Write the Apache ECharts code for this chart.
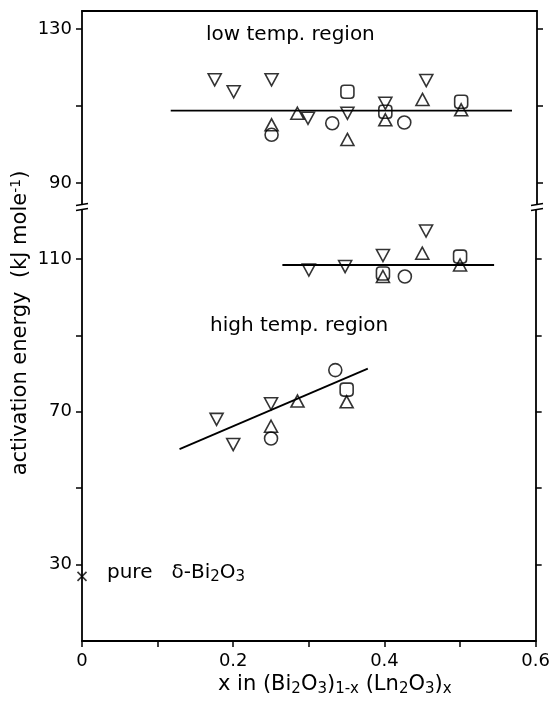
<!DOCTYPE html>
<html>
<head>
<meta charset="utf-8">
<script src="https://cdn.jsdelivr.net/npm/echarts@6/dist/echarts.min.js"></script>
<style>
html,body{margin:0;padding:0;background:#fff;}
#c{width:553px;height:709px;}
</style>
</head>
<body>
<div id="c"></div>
<script>
// ---- data (x = mole fraction, y = activation energy kJ/mol) ----
// upper panel: low temperature region
var lowDown   = [[0.175,116.8],[0.2,113.7],[0.25,116.8],[0.298,106.8],[0.35,108.1],[0.4,110.7],[0.454,116.6]];
var lowUp     = [[0.25,105.1],[0.284,108.1],[0.35,101.3],[0.4,106.4],[0.449,111.7],[0.5,109.0]];
var lowCircle = [[0.25,102.5],[0.33,105.5],[0.425,105.7]];
var lowSquare = [[0.35,113.7],[0.4,108.5],[0.5,111.1]];
var lowFit    = [[0.117,108.8],[0.567,108.8]];
// lower panel
var hiDown    = [[0.3,107.1],[0.348,108.0],[0.398,110.9],[0.455,117.3],[0.178,68.0],[0.2,61.4],[0.25,72.1]];
var hiUp      = [[0.398,105.4],[0.45,111.5],[0.5,108.4],[0.25,66.2],[0.285,72.8],[0.35,72.6]];
var hiCircle  = [[0.427,105.4],[0.25,63.0],[0.335,80.9]];
var hiSquare  = [[0.398,106.2],[0.5,110.6],[0.35,75.8]];
var hiFitFlat = [[0.265,108.4],[0.545,108.4]];
var hiFitSlope= [[0.129,60.2],[0.378,81.3]];
var pureBi    = [[0,26.9]];
// ticks
var xTicks = [0,0.1,0.2,0.3,0.4,0.5,0.6];
var xLabels = [0,0.2,0.4,0.6];
var upTicks = [90,110,130];
var upLabels = [90,130];
var loTicks = [30,50,70,90,110];
var loLabels = [30,70,110];

var FONT = 'DejaVu Sans';
var BLACK = '#000';

var chart = echarts.init(document.getElementById('c'), null, {renderer:'canvas'});

function yAx(grid, pos, min, max, ticks, labels){
  return {
    type:'value', gridIndex:grid, position:pos, min:min, max:max,
    axisLine:{show:true, onZero:false, lineStyle:{color:BLACK, width:1.8}},
    axisTick:{show:true, inside:false, length:6, customValues:ticks, lineStyle:{color:BLACK, width:1.5}},
    axisLabel:{show:labels!==null, customValues:labels||[], margin:10, color:BLACK, fontFamily:FONT, fontSize:18},
    splitLine:{show:false}
  };
}
function sc(name, data, xi, yi, symbol, size, rot){
  return {
    type:'scatter', name:name, data:data, xAxisIndex:xi, yAxisIndex:yi,
    symbol:symbol, symbolSize:size, symbolRotate:rot||0,
    itemStyle:{color:'rgba(0,0,0,0)', borderColor:BLACK, borderWidth:1.6},
    emphasis:{disabled:true}, silent:true, z:3
  };
}
function ln(data, xi, yi){
  return {
    type:'line', data:data, xAxisIndex:xi, yAxisIndex:yi, symbol:'none',
    lineStyle:{color:BLACK, width:1.8}, silent:true, z:2
  };
}

var option = {
  animation:false,
  backgroundColor:'#fff',
  grid:[
    {left:82, right:16, top:11, height:193},
    {left:82, right:16, top:210, height:431}
  ],
  xAxis:[
    {type:'value', gridIndex:0, position:'top', min:0, max:0.6,
     axisLine:{show:true, onZero:false, lineStyle:{color:BLACK, width:1.8}},
     axisTick:{show:false}, axisLabel:{show:false}, splitLine:{show:false}},
    {type:'value', gridIndex:1, position:'bottom', min:0, max:0.6,
     axisLine:{show:true, onZero:false, lineStyle:{color:BLACK, width:1.8}},
     axisTick:{show:true, length:6, customValues:xTicks, lineStyle:{color:BLACK, width:1.5}},
     axisLabel:{show:true, customValues:xLabels, margin:11, color:BLACK, fontFamily:FONT, fontSize:18,
       formatter:function(v){ return v===0 ? '0' : v.toFixed(1); }},
     splitLine:{show:false}}
  ],
  yAxis:[
    yAx(0,'left',84.5,134.7,upTicks,upLabels),
    yAx(0,'right',84.5,134.7,upTicks,null),
    yAx(1,'left',10,122.8,loTicks,loLabels),
    yAx(1,'right',10,122.8,loTicks,null)
  ],
  series:[
    ln(lowFit,0,0),
    sc('lowDown',lowDown,0,0,'triangle',[13,12],180),
    sc('lowUp',lowUp,0,0,'triangle',[13,12]),
    sc('lowCircle',lowCircle,0,0,'circle',13),
    sc('lowSquare',lowSquare,0,0,'roundRect',13),
    ln(hiFitFlat,1,2),
    ln(hiFitSlope,1,2),
    sc('hiDown',hiDown,1,2,'triangle',[13,12],180),
    sc('hiUp',hiUp,1,2,'triangle',[13,12]),
    sc('hiCircle',hiCircle,1,2,'circle',13),
    sc('hiSquare',hiSquare,1,2,'roundRect',13),
    sc('pure',pureBi,1,2,'path://M0,0L10,10M10,0L0,10',9)
  ],
  graphic:[
    // axis break marks
    {type:'line', shape:{x1:76,y1:205.5,x2:88,y2:203.5}, style:{stroke:BLACK, lineWidth:1.5}, silent:true},
    {type:'line', shape:{x1:76,y1:210.5,x2:88,y2:208.5}, style:{stroke:BLACK, lineWidth:1.5}, silent:true},
    {type:'line', shape:{x1:531,y1:205.5,x2:543,y2:203.5}, style:{stroke:BLACK, lineWidth:1.5}, silent:true},
    {type:'line', shape:{x1:531,y1:210.5,x2:543,y2:208.5}, style:{stroke:BLACK, lineWidth:1.5}, silent:true},
    // annotations
    {type:'text', left:206, top:25, silent:true,
     style:{text:'low temp. region', fill:BLACK, font:'20px "DejaVu Sans"'}},
    {type:'text', left:210, top:316, silent:true,
     style:{text:'high temp. region', fill:BLACK, font:'20px "DejaVu Sans"'}},
    {type:'text', left:107, top:563, silent:true,
     style:{text:'pure   δ-Bi{s|2}O{s|3}', fill:BLACK, font:'20px "DejaVu Sans"',
       rich:{s:{fontSize:15, fontFamily:FONT, padding:[9,0,0,0]}}}},
    // x axis title
    {type:'text', left:218, top:674, silent:true,
     style:{text:'x in (Bi{s|2}O{s|3}){s|1-x} (Ln{s|2}O{s|3}){s|x}', fill:BLACK, font:'21px "DejaVu Sans"',
       rich:{s:{fontSize:15, fontFamily:FONT, padding:[10,0,0,0]}}}},
    // y axis title
    {type:'text', x:21, y:323, rotation:Math.PI/2, silent:true,
     style:{text:'activation energy  (kJ mole{p|-1})', fill:BLACK, font:'21px "DejaVu Sans"',
       align:'center', verticalAlign:'middle',
       rich:{p:{fontSize:14, fontFamily:FONT, padding:[0,0,10,0]}}}}
  ]
};
chart.setOption(option);
</script>
</body>
</html>
